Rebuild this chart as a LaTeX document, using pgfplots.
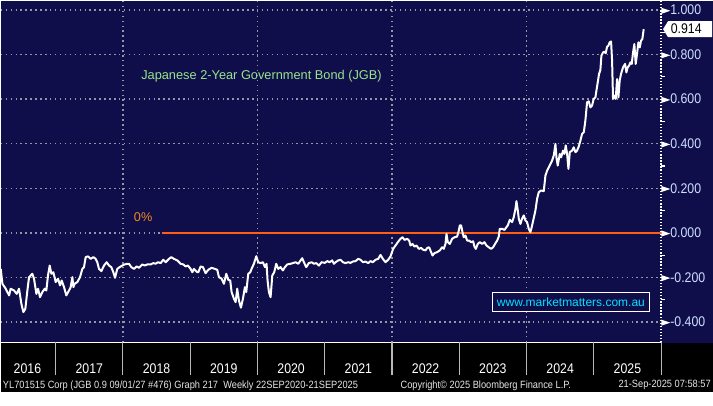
\documentclass[border=0pt]{standalone}
\usepackage{fontspec}
\setmainfont{Liberation Sans}
\newfontfamily\bbg[FakeStretch=0.88]{Liberation Sans}
\usepackage{pgfplots}
\pgfplotsset{compat=1.18}
\usepackage{pgfplotstable}

\definecolor{bbnavy}{RGB}{16,14,74}
\definecolor{gridgray}{RGB}{150,150,165}
\definecolor{lblblue}{RGB}{205,222,255}
\definecolor{titlegreen}{RGB}{150,228,140}
\definecolor{pctorange}{RGB}{235,140,30}
\definecolor{zeroorange}{RGB}{255,95,20}
\definecolor{webcyan}{RGB}{0,225,255}
\definecolor{footgray}{RGB}{230,230,230}
\definecolor{sepgray}{RGB}{185,185,185}

\pgfplotstableread{
t v
2016.183 -0.162
2016.208 -0.229
2016.257 -0.251
2016.307 -0.281
2016.331 -0.251
2016.381 -0.259
2016.421 -0.274
2016.455 -0.251
2016.490 -0.319
2016.520 -0.356
2016.549 -0.341
2016.579 -0.259
2016.604 -0.199
2016.653 -0.184
2016.678 -0.206
2016.713 -0.274
2016.738 -0.251
2016.767 -0.289
2016.802 -0.266
2016.837 -0.251
2016.861 -0.259
2016.886 -0.191
2016.911 -0.147
2016.936 -0.184
2016.965 -0.177
2017.000 -0.221
2017.035 -0.206
2017.064 -0.236
2017.089 -0.214
2017.124 -0.244
2017.158 -0.281
2017.198 -0.259
2017.223 -0.244
2017.248 -0.199
2017.263 -0.244
2017.282 -0.229
2017.322 -0.221
2017.362 -0.199
2017.396 -0.162
2017.421 -0.154
2017.446 -0.109
2017.481 -0.106
2017.520 -0.117
2017.560 -0.109
2017.594 -0.117
2017.619 -0.132
2017.644 -0.162
2017.679 -0.172
2017.718 -0.147
2017.758 -0.132
2017.793 -0.147
2017.827 -0.154
2017.857 -0.177
2017.882 -0.202
2017.916 -0.162
2017.951 -0.154
2017.991 -0.147
2018.025 -0.142
2018.065 -0.139
2018.090 -0.139
2018.124 -0.154
2018.164 -0.162
2018.204 -0.151
2018.238 -0.157
2018.288 -0.142
2018.323 -0.147
2018.362 -0.142
2018.412 -0.142
2018.451 -0.136
2018.486 -0.139
2018.521 -0.132
2018.560 -0.136
2018.600 -0.121
2018.635 -0.132
2018.684 -0.117
2018.719 -0.109
2018.758 -0.117
2018.808 -0.124
2018.857 -0.139
2018.897 -0.142
2018.932 -0.151
2018.966 -0.147
2019.006 -0.162
2019.031 -0.177
2019.055 -0.162
2019.105 -0.177
2019.120 -0.177
2019.155 -0.151
2019.189 -0.154
2019.229 -0.181
2019.269 -0.166
2019.318 -0.157
2019.368 -0.162
2019.402 -0.166
2019.427 -0.199
2019.467 -0.206
2019.501 -0.229
2019.536 -0.184
2019.566 -0.211
2019.595 -0.214
2019.615 -0.266
2019.650 -0.296
2019.675 -0.311
2019.699 -0.251
2019.724 -0.304
2019.754 -0.336
2019.784 -0.296
2019.813 -0.244
2019.833 -0.266
2019.863 -0.184
2019.893 -0.177
2019.912 -0.162
2019.947 -0.139
2019.982 -0.105
2020.011 -0.132
2020.046 -0.136
2020.081 -0.132
2020.111 -0.154
2020.135 -0.139
2020.150 -0.214
2020.170 -0.266
2020.195 -0.289
2020.220 -0.192
2020.249 -0.177
2020.279 -0.139
2020.309 -0.162
2020.343 -0.154
2020.378 -0.169
2020.408 -0.154
2020.442 -0.142
2020.492 -0.139
2020.527 -0.136
2020.566 -0.132
2020.606 -0.139
2020.641 -0.124
2020.665 -0.114
2020.690 -0.132
2020.725 -0.154
2020.764 -0.136
2020.804 -0.132
2020.839 -0.139
2020.873 -0.136
2020.913 -0.147
2020.953 -0.132
2021.002 -0.135
2021.037 -0.127
2021.071 -0.132
2021.111 -0.124
2021.136 -0.139
2021.161 -0.132
2021.200 -0.124
2021.235 -0.121
2021.270 -0.132
2021.309 -0.136
2021.349 -0.132
2021.383 -0.135
2021.418 -0.129
2021.458 -0.127
2021.497 -0.117
2021.532 -0.121
2021.567 -0.132
2021.606 -0.129
2021.646 -0.136
2021.681 -0.127
2021.715 -0.132
2021.755 -0.121
2021.795 -0.117
2021.829 -0.099
2021.864 -0.117
2021.904 -0.132
2021.943 -0.121
2021.978 -0.106
2022.017 -0.072
2022.052 -0.057
2022.087 -0.042
2022.126 -0.027
2022.156 -0.020
2022.186 -0.032
2022.225 -0.027
2022.255 -0.035
2022.275 -0.057
2022.305 -0.050
2022.334 -0.062
2022.364 -0.057
2022.399 -0.072
2022.433 -0.068
2022.463 -0.076
2022.498 -0.079
2022.523 -0.068
2022.552 -0.065
2022.582 -0.087
2022.602 -0.102
2022.632 -0.091
2022.671 -0.087
2022.711 -0.079
2022.745 -0.065
2022.770 -0.072
2022.795 -0.050
2022.810 -0.005
2022.830 -0.042
2022.859 -0.050
2022.894 -0.027
2022.929 -0.020
2022.968 -0.017
2022.993 0.010
2023.008 0.033
2023.028 0.033
2023.048 0.003
2023.067 -0.020
2023.092 -0.012
2023.117 -0.035
2023.147 -0.035
2023.176 -0.042
2023.206 -0.038
2023.226 -0.062
2023.246 -0.072
2023.275 -0.050
2023.305 -0.042
2023.340 -0.050
2023.374 -0.042
2023.404 -0.057
2023.439 -0.065
2023.474 -0.072
2023.503 -0.065
2023.538 -0.047
2023.563 -0.035
2023.587 -0.017
2023.602 0.018
2023.637 0.018
2023.672 0.013
2023.701 0.025
2023.721 0.033
2023.751 0.058
2023.786 0.048
2023.810 0.070
2023.835 0.107
2023.850 0.142
2023.870 0.100
2023.885 0.063
2023.909 0.040
2023.934 0.063
2023.959 0.078
2023.984 0.055
2024.008 0.048
2024.033 0.018
2024.058 0.003
2024.083 0.033
2024.108 0.067
2024.132 0.100
2024.157 0.152
2024.182 0.182
2024.216 0.190
2024.256 0.187
2024.281 0.257
2024.306 0.279
2024.330 0.294
2024.355 0.309
2024.380 0.324
2024.405 0.347
2024.430 0.399
2024.444 0.339
2024.464 0.302
2024.494 0.354
2024.514 0.339
2024.543 0.369
2024.563 0.354
2024.583 0.392
2024.603 0.354
2024.623 0.287
2024.643 0.362
2024.677 0.369
2024.702 0.384
2024.727 0.362
2024.751 0.369
2024.776 0.387
2024.801 0.414
2024.826 0.444
2024.851 0.451
2024.875 0.504
2024.900 0.586
2024.925 0.590
2024.950 0.563
2024.974 0.571
2024.999 0.601
2025.024 0.608
2025.039 0.638
2025.059 0.676
2025.078 0.713
2025.098 0.731
2025.113 0.795
2025.138 0.810
2025.158 0.813
2025.177 0.806
2025.197 0.835
2025.217 0.840
2025.237 0.855
2025.257 0.859
2025.272 0.773
2025.286 0.601
2025.306 0.616
2025.326 0.601
2025.346 0.690
2025.366 0.608
2025.385 0.683
2025.405 0.713
2025.435 0.743
2025.465 0.758
2025.485 0.720
2025.504 0.743
2025.524 0.750
2025.544 0.765
2025.564 0.758
2025.584 0.810
2025.603 0.847
2025.623 0.758
2025.643 0.803
2025.663 0.855
2025.683 0.832
2025.702 0.862
2025.722 0.870
2025.742 0.914
}\jgb

\begin{document}
\begin{tikzpicture}
\begin{scope}[x=0.75pt,y=0.75pt]
\useasboundingbox (0,0) rectangle (713,392);
\fill[black] (0,0) rectangle (713,392);
\fill[bbnavy] (0,49) rectangle (713,392);
\end{scope}
\begin{axis}[
  at={(0pt,37.5pt)}, anchor=south west,
  scale only axis, width=495.75pt, height=256.5pt,
  xmin=2016.183, xmax=2026, ymin=-0.4919, ymax=1.0417,
  axis x line*=bottom, axis y line*=right,
  x axis line style={-, white, line width=0.9pt},
  y axis line style={-, white, line width=0.9pt, dash pattern=on 1pt off 1.3pt},
  ytick={-0.4,-0.2,0,0.2,0.4,0.6,0.8,1.0},
  minor ytick={-0.3,-0.1,0.1,0.3,0.5,0.7,0.9},
  ymajorgrids,
  grid style={gridgray, line width=1.1pt, dash pattern=on 1.1pt off 2.6pt},
  xtick={2016.58,2017.5,2018.5,2019.5,2020.5,2021.5,2022.5,2023.5,2024.5,2025.5},
  xticklabels={2016,2017,2018,2019,2020,2021,2022,2023,2024,2025},
  minor xtick={2018,2020,2022,2024},
  xminorgrids,
  minor grid style={gridgray, line width=1.1pt, dash pattern=on 1.1pt off 2.6pt},
  major tick length=0pt,
  minor tick length=3pt,
  tick align=outside,
  tick style={white, line width=0.8pt},
  extra x ticks={2017,2018,2019,2020,2021,2022,2023,2024,2025,2026},
  extra x tick labels={},
  extra x tick style={major tick length=24.75pt, tick style={sepgray, line width=0.8pt}},
  xticklabel style={font=\bbg\fontsize{10.5}{12}\selectfont, text=white, anchor=center, yshift=-19.5pt},
  yticklabel style={anchor=west, inner sep=0pt, font=\bbg\fontsize{10.5}{12}\selectfont, text=lblblue},
  yticklabel={\tikz[baseline=-0.55ex]\fill[white] (0,-2.3pt) -- (0,2.3pt) -- (6.75pt,0pt) -- cycle;\pgfmathprintnumber[fixed, fixed zerofill, precision=3, assume math mode=true]{\tick}},
]
\addplot[zeroorange, line width=1.6pt] coordinates {(2018.575,0) (2026,0)};
\addplot[white, line width=1.5pt, line join=round] table[x=t, y=v] {\jgb};
\node[font=\fontsize{9.6}{11}\selectfont, text=titlegreen] at (axis cs:2020.06,0.705) {Japanese 2-Year Government Bond (JGB)};
\node[font=\fontsize{9.5}{11}\selectfont, text=pctorange] at (axis cs:2018.30,0.069) {0\%};
\node[draw=white, line width=0.8pt, fill=bbnavy, minimum width=117.75pt, minimum height=14.25pt, inner sep=0pt, font=\fontsize{9}{10}\selectfont, text=webcyan] at (axis cs:2024.66,-0.310) {www.marketmatters.com.au};
\coordinate (tag) at (axis cs:2026,0.914);
\end{axis}
\begin{scope}[shift={(tag)}, x=0.75pt, y=0.75pt]
\fill[white] (2,0) -- (7,8) -- (51,8) -- (51,-8) -- (7,-8) -- cycle;
\node[anchor=west, inner sep=0pt, font=\bbg\fontsize{10.5}{12}\selectfont, text=black] at (9.5,0) {0.914};
\end{scope}
\begin{scope}[x=0.75pt,y=0.75pt]
\node[anchor=west, inner sep=0pt, font=\bbg\fontsize{7.9}{9}\selectfont, text=footgray] at (2,7) {YL701515 Corp (JGB 0.9 09/01/27 \#476) Graph 217\ \ Weekly 22SEP2020-21SEP2025};
\node[anchor=west, inner sep=0pt, font=\bbg\fontsize{7.9}{9}\selectfont, text=footgray] at (400,7) {Copyright© 2025 Bloomberg Finance L.P.};
\node[anchor=east, inner sep=0pt, font=\bbg\fontsize{7.9}{9}\selectfont, text=footgray] at (711,7) {21-Sep-2025 07:58:57};
\end{scope}
\end{tikzpicture}
\end{document}
